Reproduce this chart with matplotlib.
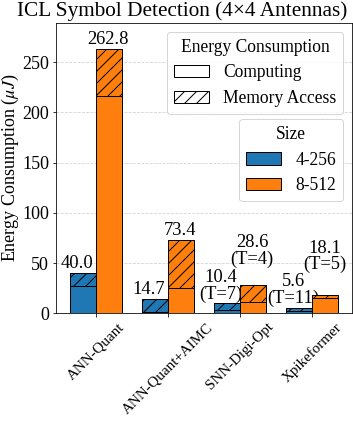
import numpy as np
import matplotlib
matplotlib.use("Agg")
import matplotlib.pyplot as plt
from matplotlib.patches import Patch

plt.rcParams['font.family'] = ['Liberation Serif', 'DejaVu Serif']
plt.rcParams['mathtext.fontset'] = 'stix'
plt.rcParams['hatch.linewidth'] = 1.0

methods = ['ANN-Quant', 'ANN-Quant+AIMC', 'SNN-Digi-Opt', 'Xpikeformer']
sizes = ['4-256', '8-512']
colors = ['#1f77b4', '#ff7f0e']

# energy (uJ) split into computing / memory access
small_compute = [27.0, 1.5, 3.0, 2.6]
small_memory = [13.0, 13.2, 7.4, 3.0]
large_compute = [216.0, 25.5, 11.6, 15.0]
large_memory = [46.8, 47.9, 17.0, 3.1]
small_total = [40.0, 14.7, 10.4, 5.6]
large_total = [262.8, 73.4, 28.6, 18.1]
small_T = ['', '', 'T=7', 'T=11']
large_T = ['', '', 'T=4', 'T=5']

fig, ax = plt.subplots(figsize=(353 / 72, 423 / 72), dpi=72)
fig.subplots_adjust(left=0.159, right=0.997, top=0.946, bottom=0.259)

x = np.arange(len(methods))
w = 0.36
groups = [(small_compute, small_memory, small_total, small_T, -w / 2, -6, [1, 1, 0, 1]),
          (large_compute, large_memory, large_total, large_T, w / 2, -1, [1, 1, 17, 22])]
for i, (comp, mem, tot, tl, shift, dx, dys) in enumerate(groups):
    ax.bar(x + shift, comp, w, color=colors[i], edgecolor='black', linewidth=1, zorder=3)
    ax.bar(x + shift, mem, w, bottom=comp, color=colors[i], edgecolor='black',
           linewidth=1, hatch='//', zorder=3)
    for j in range(len(methods)):
        label = f'{tot[j]:.1f}'
        if tl[j]:
            label += f'\n({tl[j]})'
        ax.annotate(label, (x[j] + shift, tot[j]), xytext=(dx, dys[j]),
                    textcoords='offset points', ha='center', va='bottom',
                    fontsize=18.5, linespacing=0.95)

ax.set_ylim(0, 262.8 * 1.1)
ax.set_yticks([0, 50, 100, 150, 200, 250])
ax.set_xticks(x)
ax.set_xticklabels(methods, rotation=45, ha='center', fontsize=15)
ax.tick_params(axis='y', labelsize=18)
ax.set_ylabel(r'Energy Consumption ($\mu J$)', fontsize=18, labelpad=1.5)
ax.yaxis.grid(True, linestyle='--', color='lightgray', linewidth=0.8, zorder=0)
ax.set_axisbelow(True)

fig.suptitle('ICL Symbol Detection (4×4 Antennas)', fontsize=21.3,
             x=0.515, y=0.997, va='top')

h1 = [Patch(facecolor='white', edgecolor='black', label='Computing'),
      Patch(facecolor='white', edgecolor='black', hatch='//', label='Memory Access')]
leg1 = ax.legend(handles=h1, title='Energy Consumption', loc='upper right',
                 fontsize=17.5, title_fontsize=17.5)
ax.add_artist(leg1)
h2 = [Patch(facecolor=colors[k], edgecolor='black', label=sizes[k]) for k in range(2)]
ax.legend(handles=h2, title='Size', loc='upper right', bbox_to_anchor=(1, 0.70),
          fontsize=17.5, title_fontsize=17.5)

fig.savefig('out.png', dpi=72)
